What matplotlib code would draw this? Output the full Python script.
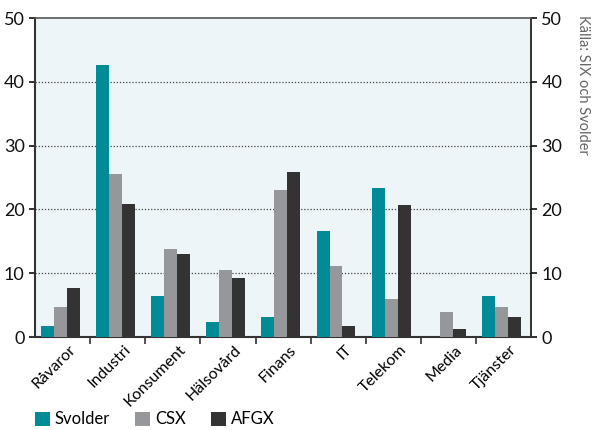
import numpy as np
import matplotlib
matplotlib.use('Agg')
import matplotlib.pyplot as plt
from matplotlib.transforms import ScaledTranslation

plt.rcParams['font.family'] = ['Lato', 'DejaVu Sans']

categories = ['Råvaror', 'Industri', 'Konsument', 'Hälsovård', 'Finans',
              'IT', 'Telekom', 'Media', 'Tjänster']
svolder = [1.7, 42.7, 6.4, 2.4, 3.1, 16.6, 23.4, 0.0, 6.4]
csx = [4.7, 25.6, 13.8, 10.5, 23.0, 11.2, 5.9, 3.9, 4.7]
afgx = [7.7, 20.8, 13.0, 9.3, 25.9, 1.7, 20.7, 1.2, 3.1]
series_names = ['Svolder', 'CSX', 'AFGX']
colors = ['#008b96', '#96979b', '#333333']

fig = plt.figure(figsize=(5.96, 4.30), dpi=100)
ax = fig.add_axes([0.059, 0.216, 0.832, 0.742])
ax.set_facecolor('#edf5f8')

x = np.arange(len(categories))
w = 0.235
offset = -0.04
for i, (vals, name, col) in enumerate(zip([svolder, csx, afgx], series_names, colors)):
    ax.bar(x + offset + (i - 1) * w, vals, width=w, color=col, label=name, zorder=3)

ax.set_xlim(-0.5, len(categories) - 0.5)
ax.set_ylim(0, 50)
ax.set_yticks([0, 10, 20, 30, 40, 50])
for y in [10, 20, 30, 40]:
    ax.axhline(y, color='#444444', linestyle=(0, (1, 1.5)), linewidth=0.9, zorder=1)

ax.set_xticks(x)
ax.set_xticklabels(categories, rotation=45, ha='right', va='top',
                   rotation_mode='anchor', fontsize=11.5)
ax.set_xticks(np.arange(0.5, len(categories) - 0.5, 1), minor=True)
ax.tick_params(axis='x', which='major', length=0, pad=4)
ax.tick_params(axis='x', which='minor', length=5, width=1.2, color='#333333')
ax.tick_params(axis='y', labelsize=13, length=4, width=1.2, colors='#111111',
               right=True, labelright=True)
shift = ScaledTranslation(6 / 100, 0, fig.dpi_scale_trans)
for lbl in ax.get_xticklabels():
    lbl.set_transform(lbl.get_transform() + shift)

for s in ['left', 'bottom']:
    ax.spines[s].set_color('#333333')
    ax.spines[s].set_linewidth(1.5)
ax.spines['right'].set_color('#111111')
ax.spines['right'].set_linewidth(1.2)
ax.spines['top'].set_color('#555555')
ax.spines['top'].set_linewidth(1.2)

fig.text(0.978, 0.965, 'Källa: SIX och Svolder', rotation=-90, ha='center', va='top',
         fontsize=10.5, color='#666666')

fig.legend(loc='lower left', bbox_to_anchor=(0.058, 0.006), ncol=3, frameon=False,
           fontsize=12, handlelength=0.9, handleheight=0.9, columnspacing=1.5,
           handletextpad=0.3, borderpad=0, borderaxespad=0)

fig.savefig('out.png', dpi=100)
